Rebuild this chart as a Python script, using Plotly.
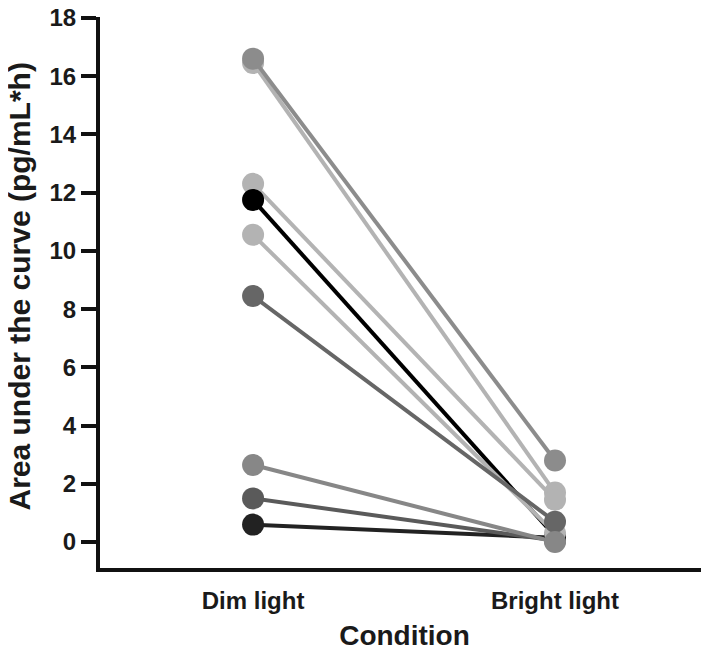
import plotly.graph_objects as go

conditions = ["Dim light", "Bright light"]
dim_values = [0.6, 1.5, 16.45, 16.6, 12.3, 11.75, 10.55, 8.45, 2.65]
bright_values = [0.15, 0.05, 1.7, 2.8, 1.45, 0.2, 0.3, 0.7, 0.0]
subject_colors = ["#222222", "#5a5a5a", "#b3b3b3", "#8c8c8c", "#b3b3b3",
                  "#000000", "#b3b3b3", "#666666", "#878787"]
y_ticks = [0, 2, 4, 6, 8, 10, 12, 14, 16, 18]
y_title = "Area under the curve (pg/mL*h)"

fig = go.Figure()
for d, b, c in zip(dim_values, bright_values, subject_colors):
    fig.add_trace(go.Scatter(
        x=[0, 1], y=[d, b], mode="lines+markers",
        line=dict(color=c, width=4),
        marker=dict(color=c, size=22),
        showlegend=False, cliponaxis=False,
    ))

font_fam = "Liberation Sans, Arial, sans-serif"
fig.update_layout(
    width=701, height=644,
    margin=dict(l=92, r=0, t=9, b=84),
    plot_bgcolor="white", paper_bgcolor="white",
    font=dict(family=font_fam, color="#1a1a1a"),
    xaxis=dict(
        range=[-0.507, 1.51],
        tickvals=[0, 1], ticktext=conditions,
        showline=True, linecolor="#111111", linewidth=4,
        showgrid=False, zeroline=False, ticks="",
        tickfont=dict(size=24, weight="bold"),
        ticklabelstandoff=8, automargin=False,
        title=dict(text="Condition", font=dict(size=28, weight="bold"), standoff=14),
    ),
    yaxis=dict(
        range=[-0.89, 18.03],
        tickvals=y_ticks,
        showline=True, linecolor="#111111", linewidth=4,
        showgrid=False, zeroline=False,
        ticks="outside", ticklen=15, tickwidth=4, tickcolor="#111111",
        tickfont=dict(size=24, weight="bold"),
        ticklabelstandoff=0, automargin=False,
        ticklabeloverflow="allow",
    ),
    annotations=[dict(
        text=y_title, textangle=-90, showarrow=False,
        xref="paper", yref="paper", x=0, y=0.5,
        xanchor="center", yanchor="middle",
        xshift=-81, yshift=6,
        font=dict(size=30, weight="bold", family=font_fam, color="#1a1a1a"),
    )],
)
fig.write_html("out.html")
